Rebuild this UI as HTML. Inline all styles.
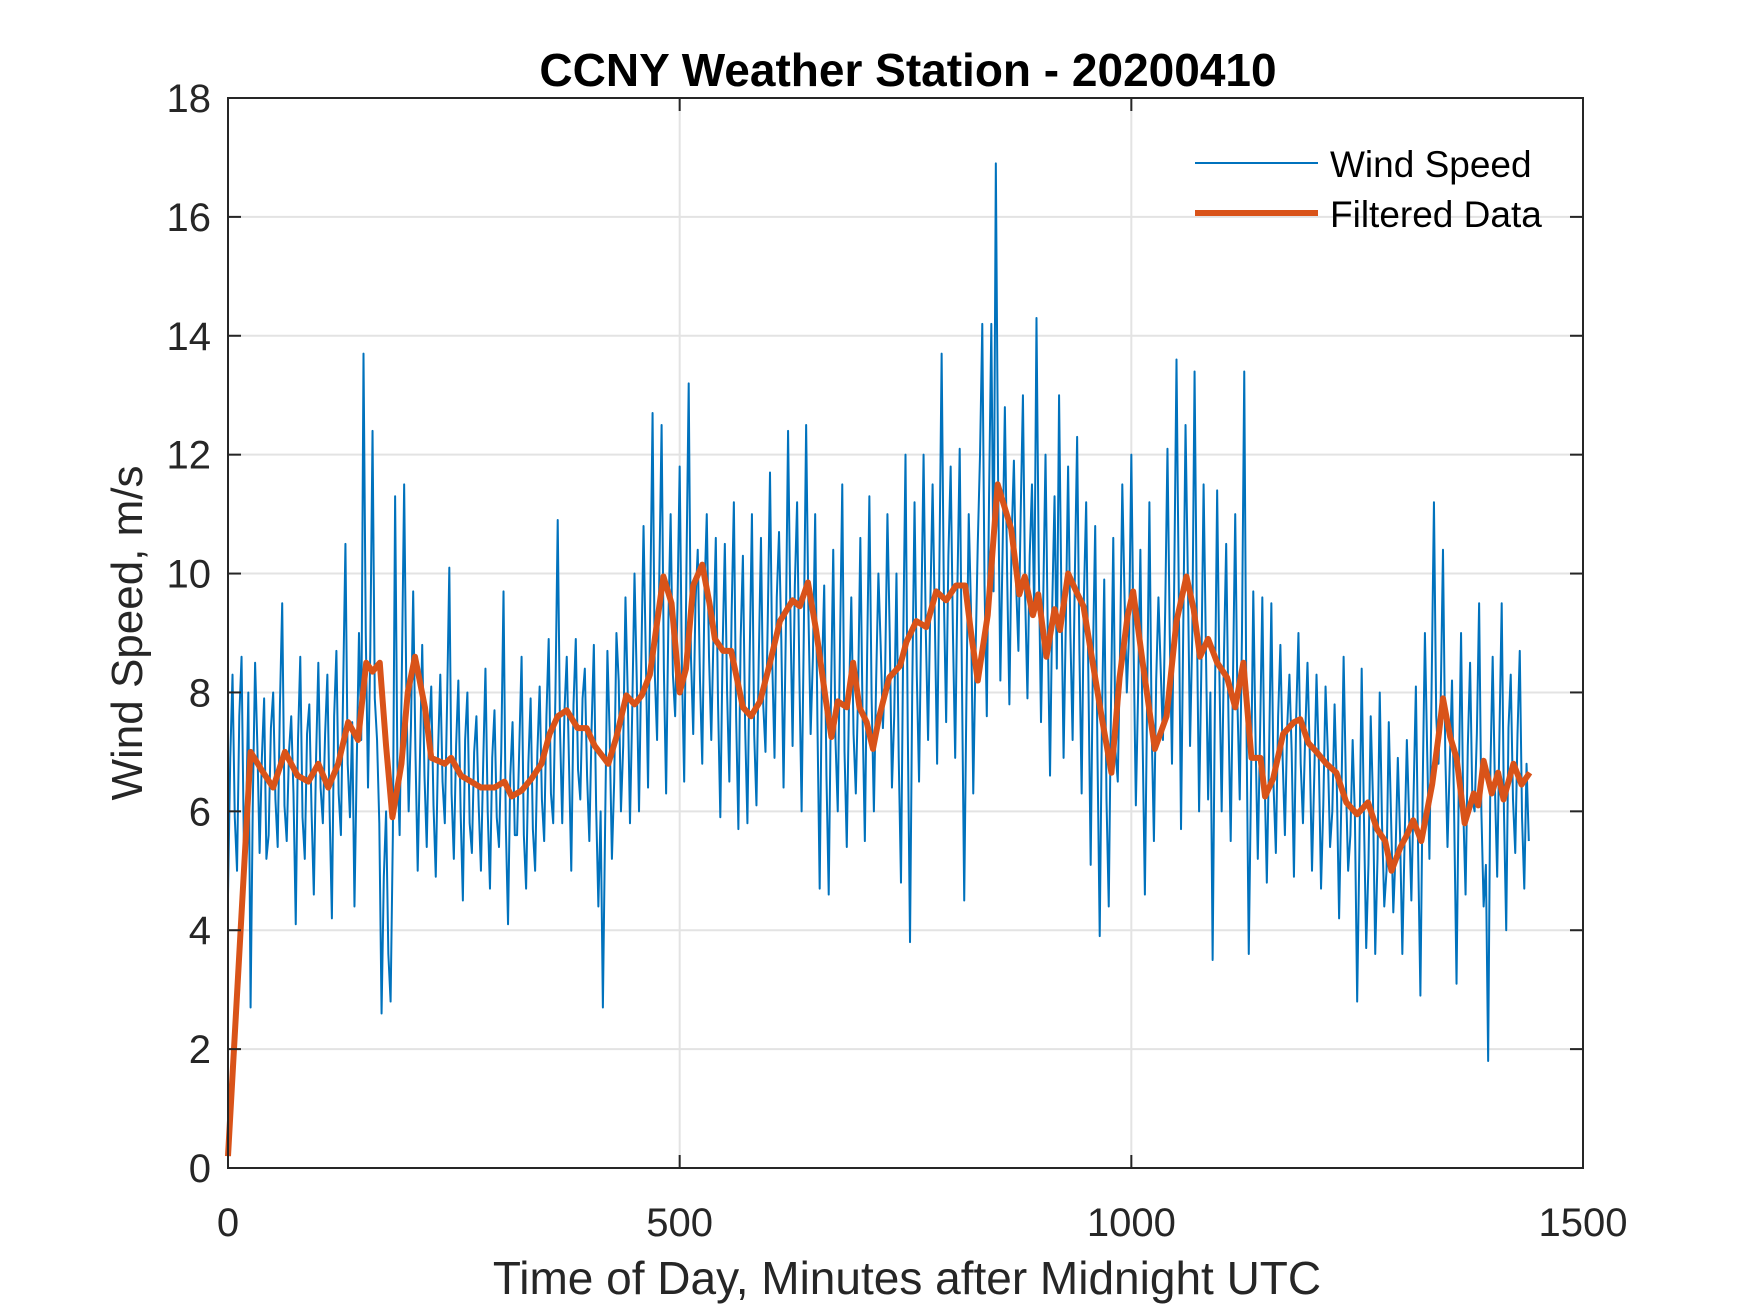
<!DOCTYPE html>
<html><head><meta charset="utf-8"><style>
html,body{margin:0;padding:0;background:#fff;}
svg{display:block;font-family:"Liberation Sans",sans-serif;}
</style></head><body>
<svg id="chart" width="1750" height="1313" viewBox="0 0 1750 1313" xmlns="http://www.w3.org/2000/svg">
<rect width="1750" height="1313" fill="#fff"/>
<g id="grid"></g>
<g id="series"></g>
<rect x="228" y="98" width="1355" height="1070" fill="none" stroke="#262626" stroke-width="2"/>
<g id="ticks"></g>
<text x="908" y="86" text-anchor="middle" font-weight="bold" font-size="46" fill="#000">CCNY Weather Station - 20200410</text>
<text x="907" y="1294" text-anchor="middle" font-size="46" fill="#262626">Time of Day, Minutes after Midnight UTC</text>
<text x="0" y="0" transform="translate(142,633) rotate(-90)" text-anchor="middle" font-size="44" fill="#262626">Wind Speed, m/s</text>
<g>
<line x1="1195" y1="163" x2="1318" y2="163" stroke="#0072BD" stroke-width="2"/>
<text x="1330" y="177" font-size="37" fill="#000">Wind Speed</text>
<line x1="1195" y1="213" x2="1318" y2="213" stroke="#D95319" stroke-width="6"/>
<text x="1330" y="227" font-size="37" fill="#000">Filtered Data</text>
</g>
</svg>
<script>
const xTicks = [0, 500, 1000, 1500];
const yTicks = [0, 2, 4, 6, 8, 10, 12, 14, 16, 18];
const rawStep = 5;
const rawSpeed = [
4.6,8.3,5.0,8.6,5.8,2.7,8.5,5.3,7.9,5.6,
8.0,5.4,9.5,5.5,7.6,4.1,8.6,5.2,7.8,4.6,
8.5,5.8,8.3,4.2,8.7,5.6,10.5,5.9,4.4,9.0,
13.7,6.4,12.4,7.2,2.6,6.0,2.8,11.3,5.6,11.5,
6.0,9.7,5.0,8.8,5.4,8.1,4.9,8.3,5.8,10.1,
5.2,8.2,4.5,8.0,5.3,7.6,5.0,8.4,4.7,7.7,
5.4,9.7,4.1,7.5,5.6,8.6,4.7,7.9,5.0,8.1,
5.5,8.9,5.8,10.9,5.8,8.6,5.0,8.9,6.2,8.4,
5.5,8.8,4.4,2.7,8.7,5.2,9.0,6.0,9.6,5.8,
10.0,6.0,10.8,6.4,12.7,7.2,12.5,6.3,11.0,7.6,
11.8,6.5,13.2,7.3,10.4,6.8,11.0,7.2,10.6,5.9,
10.5,6.5,11.2,5.7,10.3,5.8,11.0,6.1,10.6,7.0,
11.7,6.9,10.7,6.4,12.4,7.1,11.2,6.0,12.5,7.3,
11.0,4.7,9.8,4.6,10.4,6.0,11.5,5.4,9.6,6.3,
10.6,5.5,11.3,6.0,10.0,7.4,11.0,6.4,10.0,4.8,
12.0,3.8,11.2,6.5,12.0,7.2,11.5,6.8,13.7,7.5,
11.8,6.9,12.1,4.5,11.0,6.3,10.5,14.2,7.6,14.2,
16.9,8.2,12.8,7.8,11.9,8.7,13.0,7.9,11.5,14.3,
7.5,12.0,6.6,11.3,13.0,6.9,11.8,7.2,12.3,6.3,
11.2,5.1,10.8,3.9,9.9,4.4,10.6,6.5,11.5,8.0,
12.0,6.1,10.4,4.6,11.2,5.5,9.6,7.2,12.1,6.8,
13.6,5.7,12.5,7.1,13.4,6.0,11.5,6.2,3.5,11.4,
6.0,10.5,5.5,11.0,6.2,13.4,3.6,9.7,5.2,9.6,
4.8,9.5,5.3,8.8,5.6,8.3,4.9,9.0,5.8,8.5,
5.0,8.3,4.7,8.1,5.4,7.8,4.2,8.6,5.0,7.2,
2.8,8.4,3.7,7.6,3.6,8.0,4.4,7.5,4.3,6.9,
3.6,7.2,4.5,8.1,2.9,9.0,5.2,11.2,6.8,10.4,
5.4,8.2,3.1,9.0,4.6,8.5,6.0,9.5,4.4,1.8,
8.6,4.9,9.5,4.0,8.3,5.3,8.7,4.7,5.5
];
// readings taken half-way between the samples above (minute 5i + 2.5)
const rawSpeedMid = [
6.9,5.9,7.6,5.5,8.0,6.2,7.1,6.9,5.2,7.4,
6.2,7.8,6.1,7.0,6.3,7.2,5.9,7.3,6.0,6.9,
6.4,7.3,6.0,7.6,6.3,8.1,6.8,7.5,6.8,7.2,
9.0,8.7,7.9,5.8,4.9,3.6,5.6,6.8,8.4,7.9,
7.4,7.0,6.9,6.6,7.3,6.1,7.0,6.5,7.8,6.3,
7.1,6.0,7.2,5.8,7.0,6.1,6.8,6.0,6.9,5.9,
7.0,5.8,6.6,5.6,7.1,5.6,6.8,5.7,7.0,6.2,
7.6,6.3,8.0,7.4,7.7,6.8,7.8,6.7,7.9,6.6,
7.4,6.1,6.0,5.8,7.3,6.5,8.2,7.1,8.0,7.7,
8.2,8.5,8.6,9.6,8.3,10.0,8.4,9.2,8.3,9.4,
8.4,10.1,8.6,9.5,8.2,9.7,8.6,9.0,7.8,8.7,
8.0,9.3,7.6,8.9,7.4,8.6,7.3,8.5,7.8,9.2,
8.5,9.6,8.9,9.0,9.4,9.8,8.3,9.1,9.4,8.6,
7.5,8.3,6.6,7.9,7.2,8.8,7.0,7.9,7.3,8.0,
7.6,8.6,7.9,8.2,8.8,8.4,9.0,7.6,6.9,8.9,
7.4,8.1,8.3,9.3,9.0,9.5,9.2,10.1,9.6,10.3,
9.0,9.8,8.2,8.0,9.4,8.6,12.0,9.8,11.3,9.7,
11.6,10.4,10.0,10.6,9.8,11.0,9.6,10.3,9.3,10.2,
9.6,9.0,9.5,8.4,9.7,9.2,9.0,10.0,8.7,9.6,
8.2,8.6,7.0,7.6,6.2,7.8,7.0,8.7,9.6,9.0,
8.8,8.0,7.2,7.9,7.4,8.2,8.4,9.4,9.0,9.9,
9.7,9.1,10.0,9.0,9.3,8.4,8.8,8.0,7.8,8.3,
8.6,7.6,8.2,7.8,9.0,7.4,6.5,7.2,7.3,6.6,
7.0,6.4,7.6,6.9,7.4,7.0,7.6,6.8,7.3,7.0,
6.6,6.9,6.1,7.0,6.0,6.4,6.2,6.5,5.6,5.9,
5.4,5.9,5.1,6.2,5.2,5.8,5.0,5.9,5.3,5.6,
5.5,5.9,6.3,5.3,6.4,7.0,8.2,7.6,7.9,7.0,
6.8,5.8,6.5,6.0,7.1,6.2,7.3,6.0,5.1,6.7,
6.4,7.3,6.0,7.4,6.2,7.3,5.9,6.8
];
const filtMinutes = [0,25,37,50,63,77,89,100,111,122,133,144,153,160,168,175,182,192,199,207,218,225,240,247,258,269,280,295,306,314,325,336,347,356,365,375,387,397,406,421,430,441,450,458,467,482,491,500,507,515,525,533,539,548,557,570,579,589,600,611,625,633,642,651,662,668,675,685,692,699,707,714,721,732,744,751,762,773,784,795,806,816,823,830,841,852,860,867,876,882,891,897,906,915,921,930,939,947,954,967,978,987,996,1002,1013,1026,1039,1050,1061,1069,1076,1085,1095,1106,1115,1124,1133,1143,1148,1157,1168,1180,1187,1196,1205,1216,1227,1238,1250,1262,1272,1281,1288,1298,1305,1312,1321,1333,1340,1345,1353,1360,1369,1379,1384,1390,1399,1406,1412,1423,1432,1441];
const filtSpeed = [0.2,7.0,6.7,6.4,7.0,6.6,6.5,6.8,6.4,6.8,7.5,7.2,8.5,8.35,8.5,7.1,5.9,6.8,8.0,8.6,7.75,6.9,6.8,6.9,6.6,6.5,6.4,6.4,6.5,6.25,6.35,6.55,6.8,7.3,7.6,7.7,7.4,7.4,7.1,6.8,7.25,7.95,7.8,7.95,8.3,9.95,9.5,8.0,8.4,9.8,10.15,9.5,8.9,8.7,8.7,7.75,7.6,7.85,8.5,9.2,9.55,9.45,9.85,9.05,7.85,7.25,7.85,7.75,8.5,7.75,7.5,7.05,7.6,8.25,8.45,8.85,9.2,9.1,9.7,9.55,9.8,9.8,8.95,8.2,9.3,11.5,11.1,10.75,9.65,9.95,9.3,9.65,8.6,9.4,9.05,10.0,9.7,9.45,8.8,7.6,6.65,8.25,9.3,9.7,8.45,7.05,7.6,9.2,9.95,9.4,8.6,8.9,8.5,8.25,7.75,8.5,6.9,6.9,6.25,6.55,7.3,7.5,7.55,7.15,7.0,6.8,6.65,6.15,5.95,6.15,5.7,5.5,5.0,5.4,5.6,5.85,5.5,6.45,7.25,7.9,7.25,6.9,5.8,6.3,6.1,6.85,6.3,6.65,6.2,6.8,6.45,6.65];

const L=228,R=1583,T=98,B=1168;
const xScale = v => L + (v-0)/(1500-0)*(R-L);
const yScale = v => B - (v-0)/(18-0)*(B-T);
const NS="http://www.w3.org/2000/svg";
function mk(tag, parent){const e=document.createElementNS(NS,tag);parent.appendChild(e);return e;}
const grid=document.getElementById('grid'), ticks=document.getElementById('ticks'), series=document.getElementById('series');

xTicks.forEach(t=>{
  const x=xScale(t);
  if(t>0&&t<1500){const g=mk('line',grid);
    
    
    g.setAttribute('x1',x);g.setAttribute('x2',x);g.setAttribute('y1',T);g.setAttribute('y2',B);g.setAttribute('stroke','#e3e3e3');g.setAttribute('stroke-width','2');}
  [[B,B-13],[T,T+13]].forEach(p=>{const k=mk('line',ticks);
    
    
    k.setAttribute('x1',x);k.setAttribute('x2',x);k.setAttribute('y1',p[0]);k.setAttribute('y2',p[1]);k.setAttribute('stroke','#262626');k.setAttribute('stroke-width','2');});
  const tx=mk('text',ticks);
  
  
  tx.setAttribute('x',x);tx.setAttribute('y',1236);tx.setAttribute('text-anchor','middle');tx.setAttribute('font-size','40');tx.setAttribute('fill','#262626');tx.textContent=t;
});
yTicks.forEach(t=>{
  const y=yScale(t);
  if(t>0&&t<18){const g=mk('line',grid);
    
    
    g.setAttribute('x1',L);g.setAttribute('x2',R);g.setAttribute('y1',y);g.setAttribute('y2',y);g.setAttribute('stroke','#e3e3e3');g.setAttribute('stroke-width','2');}
  [[L,L+13],[R,R-13]].forEach(p=>{const k=mk('line',ticks);
    
    
    k.setAttribute('x1',p[0]);k.setAttribute('x2',p[1]);k.setAttribute('y1',y);k.setAttribute('y2',y);k.setAttribute('stroke','#262626');k.setAttribute('stroke-width','2');});
  const tx=mk('text',ticks);
  
  
  tx.setAttribute('x',211);tx.setAttribute('y',y+14);tx.setAttribute('text-anchor','end');tx.setAttribute('font-size','40');tx.setAttribute('fill','#262626');tx.textContent=t;
});

const rawPts=[];
rawSpeed.forEach((v,i)=>{
  rawPts.push([Math.min(i*rawStep,1440),v]);
  if(i<rawSpeedMid.length) rawPts.push([i*rawStep+rawStep/2,rawSpeedMid[i]]);
});
const raw=mk('polyline',series);


raw.setAttribute('points',rawPts.map(p=>xScale(p[0])+','+yScale(p[1])).join(' '));
raw.setAttribute('fill','none');raw.setAttribute('stroke','#0072BD');raw.setAttribute('stroke-width','2');raw.setAttribute('stroke-linejoin','round');

const filt=mk('polyline',series);


filt.setAttribute('points',filtSpeed.map((v,i)=>xScale(filtMinutes[i])+','+yScale(v)).join(' '));
filt.setAttribute('fill','none');filt.setAttribute('stroke','#D95319');filt.setAttribute('stroke-width','6');filt.setAttribute('stroke-linejoin','round');
</script>
</body></html>
